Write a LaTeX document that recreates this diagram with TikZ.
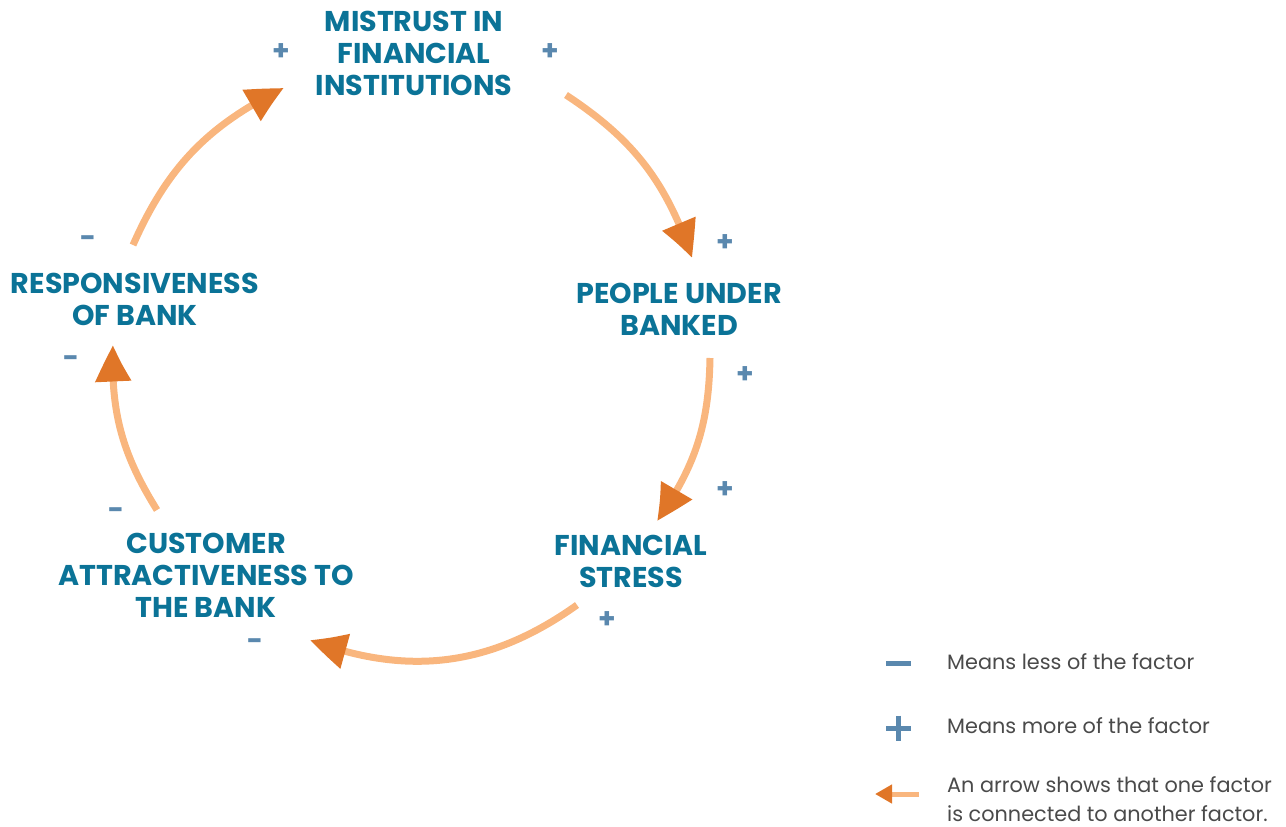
\documentclass[tikz,border=0pt]{standalone}
\usepackage{fontspec}
\setmainfont{Poppins}
\usetikzlibrary{arrows.meta,bending}
\definecolor{txtblue}{HTML}{0B7397}
\definecolor{signblue}{HTML}{5A88AE}
\definecolor{lightor}{HTML}{F9B67E}
\definecolor{darkor}{HTML}{E07628}
\definecolor{legtxt}{HTML}{4A4A4A}
\tikzset{
  factor/.style={anchor=base, align=center, text=txtblue, font=\fontsize{28.6}{32}\selectfont\bfseries, inner sep=0pt},
  sign/.style={text=signblue, font=\fontsize{28}{28}\selectfont\bfseries, inner sep=0pt},
  loop/.style={draw=lightor, line width=7pt, -{Triangle[length=38pt,width=34pt,color=darkor,bend]}},
  legend/.style={anchor=base west, align=left, text=legtxt, font=\fontsize{20.8}{29}\selectfont, inner sep=0pt},
}
\begin{document}
\begin{tikzpicture}[x=1pt,y=-1pt]
\useasboundingbox (0,0) rectangle (1286,827);
% factors (anchor = baseline of last line)
\node[factor] (mis) at (414,95) {MISTRUST IN\\FINANCIAL\\INSTITUTIONS};
\node[factor] (peo) at (679,335) {PEOPLE UNDER\\BANKED};
\node[factor] (fin) at (631,587) {FINANCIAL\\STRESS};
\node[factor] (cus) at (206,617) {CUSTOMER\\ATTRACTIVENESS TO\\THE BANK};
\node[factor] (res) at (135,325) {RESPONSIVENESS\\OF BANK};
% arrow end points
\coordinate (a1s) at (133,245); \coordinate (a1e) at (284,88);
\coordinate (a2s) at (566,95);  \coordinate (a2e) at (692,258);
\coordinate (a3s) at (710,358); \coordinate (a3e) at (657,521);
\coordinate (a4s) at (577,605); \coordinate (a4e) at (310,640);
\coordinate (a5s) at (157,510); \coordinate (a5e) at (113,345);
\draw[loop] (a1s) to[bend left=20] (a1e);
\draw[loop] (a2s) to[bend left=19] (a2e);
\draw[loop] (a3s) to[bend left=17] (a3e);
\draw[loop] (a4s) to[bend left=28] (a4e);
\draw[loop] (a5s) to[bend left=17] (a5e);
% signs
\node[sign] (p1) at (281,52) {+};
\node[sign] (p2) at (550,52) {+};
\node[sign] (p3) at (725,243) {+};
\node[sign] (p4) at (745,375) {+};
\node[sign] (p5) at (725,490) {+};
\node[sign] (p6) at (607,620) {+};
\node[sign] (m1) at (255,645) {-};
\node[sign] (m2) at (116,514) {-};
\node[sign] (m3) at (71,362) {-};
\node[sign] (m4) at (88,242) {-};
% legend
\coordinate (lm1) at (886,663); \coordinate (lm2) at (911,663);
\draw[signblue, line width=5pt] (lm1) -- (lm2);
\coordinate (lp1) at (886,728); \coordinate (lp2) at (911,728);
\coordinate (lp3) at (898.5,715.5); \coordinate (lp4) at (898.5,740.5);
\draw[signblue, line width=5pt] (lp1) -- (lp2) (lp3) -- (lp4);
\coordinate (la1) at (919,794); \coordinate (la2) at (875,794);
\draw[draw=lightor, line width=5pt, -{Triangle[length=17pt,width=18pt,color=darkor]}] (la1) -- (la2);
\node[legend] (l1) at (947,669) {Means less of the factor};
\node[legend] (l2) at (947,733) {Means more of the factor};
\node[legend] (l3) at (947,821) {An arrow shows that one factor\\is connected to another factor.};
\end{tikzpicture}
\end{document}
